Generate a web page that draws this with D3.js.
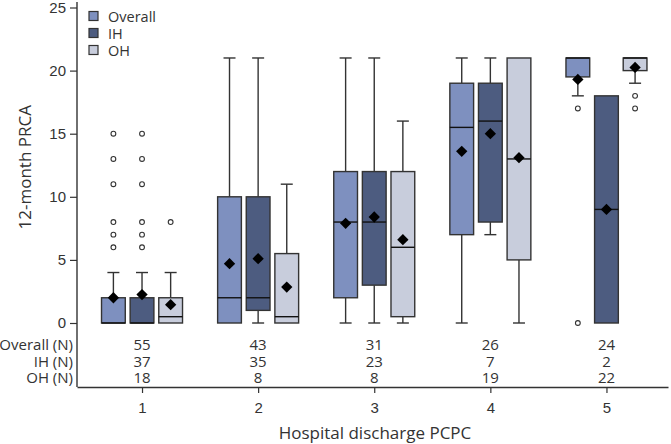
<!DOCTYPE html>
<html>
<head>
<meta charset="utf-8">
<script src="https://cdn.jsdelivr.net/npm/d3@7"></script>
<style>
  html, body { margin: 0; padding: 0; background: #fff; }
  svg { display: block; font-family: "Open Sans", "Noto Sans", sans-serif; }
</style>
</head>
<body>
<svg id="chart" width="671" height="444"></svg>
<script>
// ---- data ----
const categories = [1, 2, 3, 4, 5];
const seriesNames = ["Overall", "IH", "OH"];
const seriesColors = ["#7e90bf", "#4d5c80", "#c8cddc"];
// box stats per category: [whiskerLow, q1, median, q3, whiskerHigh]
const overallBox = [[0, 0, 0, 2, 4], [0, 0, 2, 10, 21], [0, 2, 8, 12, 21], [0, 7, 15.5, 19, 21], [18, 19.5, 21, 21, 21]];
const ihBox      = [[0, 0, 0, 2, 4], [0, 1, 2, 10, 21], [0, 3, 8, 12, 21], [7, 8, 16, 19, 21], [0, 0, 9, 18, 18]];
const ohBox      = [[0, 0, 0.5, 2, 4], [0, 0, 0.5, 5.5, 11], [0, 0.5, 6, 12, 16], [0, 5, 13, 21, 21], [19, 20, 21, 21, 21]];
const overallMean = [2.0, 4.7, 7.9, 13.6, 19.3];
const ihMean      = [2.25, 5.1, 8.4, 15.0, 9.0];
const ohMean      = [1.45, 2.85, 6.6, 13.1, 20.25];
const overallOutliers = [[6, 7, 8, 11, 13, 15], [], [], [], [0, 17]];
const ihOutliers      = [[6, 7, 8, 11, 13, 15], [], [], [], []];
const ohOutliers      = [[8], [], [], [], [17, 18]];
const overallN = [55, 43, 31, 26, 24];
const ihN      = [37, 35, 23, 7, 2];
const ohN      = [18, 8, 8, 19, 22];
const yTicks = [0, 5, 10, 15, 20, 25];
const tableLabels = ["Overall (N)", "IH (N)", "OH (N)"];

// ---- layout ----
const svg = d3.select("#chart");
const axisX = 77, axisBottom = 387;
const x = d3.scaleLinear().domain([0.44, 5.53]).range([axisX, 668]);
const y = d3.scaleLinear().domain([0, 25]).range([323, 7.5]);
const offset = d3.scaleBand().domain(seriesNames).range([-40.5, 40.5]).paddingInner(0.17).paddingOuter(0);
const boxW = offset.bandwidth();
const textColor = "#333";
const stroke = "#333";

const boxes = [overallBox, ihBox, ohBox];
const means = [overallMean, ihMean, ohMean];
const outliers = [overallOutliers, ihOutliers, ohOutliers];
const counts = [overallN, ihN, ohN];

// y axis
const yAxis = svg.append("g").attr("transform", `translate(${axisX},0)`)
  .call(d3.axisLeft(y).tickValues(yTicks).tickSize(7).tickSizeOuter(0));
yAxis.select(".domain").remove();
yAxis.selectAll(".tick line").attr("stroke", stroke).attr("stroke-width", 1.2);
yAxis.selectAll(".tick text").attr("fill", textColor).style("font-size", "15px").attr("x", -11);
svg.append("line").attr("x1", axisX).attr("x2", axisX).attr("y1", 2).attr("y2", axisBottom)
  .attr("stroke", stroke).attr("stroke-width", 1.4);

// x axis
const xAxis = svg.append("g").attr("transform", `translate(0,${axisBottom})`)
  .call(d3.axisBottom(x).tickValues(categories).tickFormat(d3.format("d")).tickSize(6).tickSizeOuter(0));
xAxis.select(".domain").attr("stroke", stroke).attr("stroke-width", 1.4);
xAxis.selectAll(".tick line").attr("stroke", stroke).attr("stroke-width", 1.2);
xAxis.selectAll(".tick text").attr("fill", textColor).style("font-size", "15px")
  .attr("y", 25.5).attr("dy", null);

// axis titles
svg.append("text").attr("transform", `translate(26,${(y(0) + y(25)) / 2 + 2}) rotate(-90)`)
  .attr("text-anchor", "middle").attr("dominant-baseline", "middle")
  .attr("fill", textColor).style("font-size", "17px").text("12-month PRCA");
svg.append("text").attr("x", 375).attr("y", 439)
  .attr("text-anchor", "middle").attr("fill", textColor).style("font-size", "17px")
  .text("Hospital discharge PCPC");

// boxes
seriesNames.forEach((s, si) => {
  const g = svg.append("g");
  categories.forEach((c, ci) => {
    const [lo, q1, med, q3, hi] = boxes[si][ci];
    const cx = x(c) + offset(s) + boxW / 2;
    const left = cx - boxW / 2;
    // whiskers
    if (hi > q3) {
      g.append("line").attr("x1", cx).attr("x2", cx).attr("y1", y(q3)).attr("y2", y(hi)).attr("stroke", stroke).attr("stroke-width", 1.4);
      g.append("line").attr("x1", cx - 6).attr("x2", cx + 6).attr("y1", y(hi)).attr("y2", y(hi)).attr("stroke", stroke).attr("stroke-width", 1.4);
    }
    if (lo < q1) {
      g.append("line").attr("x1", cx).attr("x2", cx).attr("y1", y(q1)).attr("y2", y(lo)).attr("stroke", stroke).attr("stroke-width", 1.4);
      g.append("line").attr("x1", cx - 6).attr("x2", cx + 6).attr("y1", y(lo)).attr("y2", y(lo)).attr("stroke", stroke).attr("stroke-width", 1.4);
    }
    // box
    g.append("rect").attr("x", left).attr("y", y(q3)).attr("width", boxW).attr("height", y(q1) - y(q3))
      .attr("fill", seriesColors[si]).attr("stroke", stroke).attr("stroke-width", 1.4);
    // median
    g.append("line").attr("x1", left).attr("x2", left + boxW).attr("y1", y(med)).attr("y2", y(med))
      .attr("stroke", "#111").attr("stroke-width", 1.4);
    // outliers
    outliers[si][ci].forEach(v => {
      g.append("circle").attr("cx", cx).attr("cy", y(v)).attr("r", 2.4)
        .attr("fill", "#fff").attr("stroke", stroke).attr("stroke-width", 1.1);
    });
    // mean diamond
    const m = means[si][ci];
    g.append("path").attr("d", d3.symbol().type(d3.symbolSquare).size(64)())
      .attr("transform", `translate(${cx},${y(m)}) rotate(45)`).attr("fill", "#000");
  });
});

// table of counts
const rowY = [350, 366.5, 383];
tableLabels.forEach((lab, ri) => {
  svg.append("text").attr("x", 73).attr("y", rowY[ri]).attr("text-anchor", "end")
    .attr("fill", textColor).style("font-size", "15px").text(lab);
  categories.forEach((c, ci) => {
    svg.append("text").attr("x", x(c)).attr("y", rowY[ri]).attr("text-anchor", "middle")
      .attr("fill", textColor).style("font-size", "15px").text(counts[ri][ci]);
  });
});

// legend
const legend = svg.append("g");
seriesNames.forEach((s, i) => {
  const ly = 16 + i * 17;
  legend.append("rect").attr("x", 89).attr("y", ly - 4.5).attr("width", 9).attr("height", 9)
    .attr("fill", seriesColors[i]).attr("stroke", stroke).attr("stroke-width", 1.2);
  legend.append("text").attr("x", 108).attr("y", ly).attr("dominant-baseline", "central")
    .attr("fill", textColor).style("font-size", "14.5px").text(s);
});
</script>
</body>
</html>
